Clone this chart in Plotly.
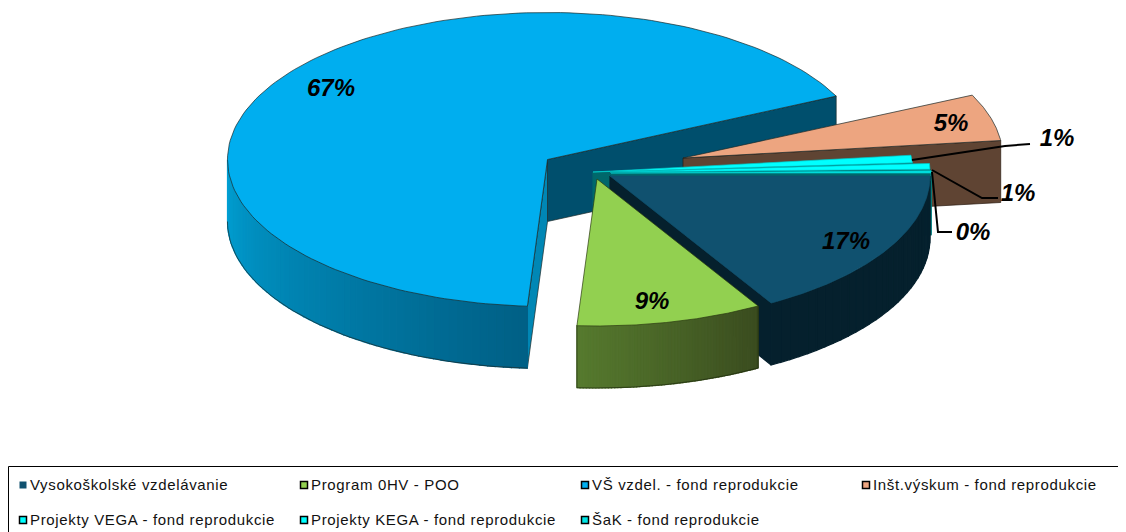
import numpy as np
import plotly.graph_objects as go

# ---- data
categories = ["Vysokoškolské vzdelávanie", "Program 0HV - POO", "VŠ vzdel. - fond reprodukcie",
              "Inšt.výskum - fond reprodukcie", "Projekty VEGA - fond reprodukcie",
              "Projekty KEGA - fond reprodukcie", "ŠaK - fond reprodukcie"]
values = [16.6, 9.4, 66.9, 5.2, 0.9, 0.7, 0.3]

# ---- style / geometry
top_colors = ["#10516F", "#92D050", "#00AEEF", "#EDA580", "#00FFFF", "#00FFFF", "#00E5E5"]
legend_colors = ["#10516F", "#92D050", "#00AEEF", "#EDA580", "#00FFFF", "#00FFFF", "#00E5E5"]
centers = [(610, 176), (597, 179), (547.5, 159.5), (683, 158), (593, 172), (610, 172), (611, 173)]
RX, RY, DEPTH = 320, 147, 62
START = 90.0
W, H = 1126, 532
PAGE_MARGIN = 8  # default margin of the page body

shares = np.array(values) / sum(values)
edges = START + np.concatenate([[0], np.cumsum(shares) * 360])


def pt(c, t, drop=0):
    r = np.radians(t)
    return c[0] + RX * np.sin(r), c[1] - RY * np.cos(r) + drop


fig = go.Figure()


def poly(xs, ys, fill, line=None, lw=0.7):
    xs, ys = list(xs), list(ys)
    fig.add_trace(go.Scatter(
        x=xs + xs[:1], y=ys + ys[:1], mode="lines", fill="toself", fillcolor=fill,
        line=dict(color=line or fill, width=lw if line else 1.2),
        hoverinfo="skip", showlegend=False))


def top(i, line="#1a2a2a"):
    c = centers[i]
    ts = np.linspace(edges[i], edges[i + 1], 160)
    x, y = pt(c, ts)
    poly(np.r_[c[0], x], np.r_[c[1], y], top_colors[i], line)


def cut(i, t, fill, line=None):
    c = centers[i]
    x, y = pt(c, t)
    poly([c[0], x, x, c[0]], [c[1], y, y + DEPTH, c[1] + DEPTH], fill, line)


def lerp(a, b, f):
    ca = [int(a[k:k + 2], 16) for k in (1, 3, 5)]
    cb = [int(b[k:k + 2], 16) for k in (1, 3, 5)]
    return "rgb(%d,%d,%d)" % tuple(round(p + (q - p) * f) for p, q in zip(ca, cb))


def wall(i, t0, t1, col_a, col_b, n=60, line="#1a2a2a"):
    c = centers[i]
    ts = np.linspace(t0, t1, n + 1)
    xs, ys = pt(c, ts)
    for k in range(n):
        poly([xs[k], xs[k + 1], xs[k + 1], xs[k]],
             [ys[k], ys[k + 1], ys[k + 1] + DEPTH, ys[k] + DEPTH],
             lerp(col_a, col_b, (k + .5) / n))
    if line:
        fig.add_trace(go.Scatter(x=xs, y=ys + DEPTH, mode="lines",
                                 line=dict(color=line, width=0.7),
                                 hoverinfo="skip", showlegend=False))


# big slice (index 2)
cut(2, edges[3], "#004F6D", "#1a2a2a")
cut(2, edges[2], "#0087B5", "#1a2a2a")
wall(2, edges[2], 270, "#005F85", "#00A0D4")
top(2)

# salmon slice (index 3)
cut(3, edges[4], "#5F4433", "#2a1a10")
top(3)

# VEGA
cut(4, edges[5], "#00686B")
top(4, "#00CCCC")

# KEGA
cut(5, edges[6], "#00686B")
top(5, "#00CCCC")

# ŠaK
cut(6, edges[7], "#00686B")
wall(6, edges[6], edges[7], "#00A0A0", "#00686B", n=2, line=None)
top(6, "#00CCCC")

# dark-blue slice (index 0)
cut(0, edges[1], "#05202D")
wall(0, edges[0], edges[1], "#05202D", "#05202D", n=30, line=None)
top(0, "#10516F")

# green slice (index 1)
wall(1, edges[1], edges[2], "#3A4C1F", "#567A2E", line="#1d2a0c")
c1 = centers[1]
for t in edges[1:3]:
    x, y = pt(c1, t)
    fig.add_trace(go.Scatter(x=[x, x], y=[y, y + DEPTH], mode="lines",
                             line=dict(color="#1d2a0c", width=0.7),
                             hoverinfo="skip", showlegend=False))
top(1, "#2a3a10")

# leader lines
leaders = [([912, 160, 1005, 146, 1030, 144]),
           ([932, 170, 982, 198, 998, 198]),
           ([932, 172, 938, 232, 952, 232])]
for seq in leaders:
    fig.add_trace(go.Scatter(x=seq[0::2], y=seq[1::2], mode="lines",
                             line=dict(color="#000000", width=2),
                             hoverinfo="skip", showlegend=False))

# percentage labels
label_pos = [(846, 243), (652, 303), (331, 90), (951, 125), (1057, 140), (1018, 195), (973, 234)]
for v, (x, y) in zip(shares, label_pos):
    fig.add_trace(go.Scatter(
        x=[x], y=[y], mode="text", text=[f"{v*100:.0f}%"], textposition="middle center",
        textfont=dict(family="Liberation Sans", size=24, color="#000000", weight="bold", style="italic"),
        hoverinfo="skip", showlegend=False))

# legend
legend_pos = [(23, 485), (304, 485), (585, 485), (866, 485), (23, 520), (304, 520), (585, 520)]
for name, col, (x, y), i in zip(categories, legend_colors, legend_pos, range(7)):
    fig.add_trace(go.Scatter(
        x=[x], y=[y], mode="markers",
        marker=dict(symbol="square", size=7, color=col,
                    line=dict(color="#000000" if i else col, width=1.5 if i else 0)),
        hoverinfo="skip", showlegend=False))
    fig.add_trace(go.Scatter(
        x=[x + 7], y=[y + 1], mode="text", text=[name], textposition="middle right",
        textfont=dict(family="Liberation Sans", size=15, color="#111111"),
        hoverinfo="skip", showlegend=False))

fig.update_layout(
    width=W - PAGE_MARGIN, height=H - PAGE_MARGIN, margin=dict(l=0, r=0, t=0, b=0),
    paper_bgcolor="#ffffff", plot_bgcolor="#ffffff", showlegend=False,
    xaxis=dict(range=[PAGE_MARGIN, W], visible=False, fixedrange=True),
    yaxis=dict(range=[H, PAGE_MARGIN], visible=False, fixedrange=True),
    shapes=[dict(type="rect", xref="x", yref="y", x0=8.5, y0=466.5, x1=1125.5, y1=540,
                 line=dict(color="#000000", width=1), fillcolor="rgba(0,0,0,0)")],
)
spacing = "document.querySelectorAll('.textpoint text').forEach(function(t){if(t.textContent.length>4){t.style.letterSpacing='0.65px';}});"
fig.write_html("out.html", post_script=spacing)
